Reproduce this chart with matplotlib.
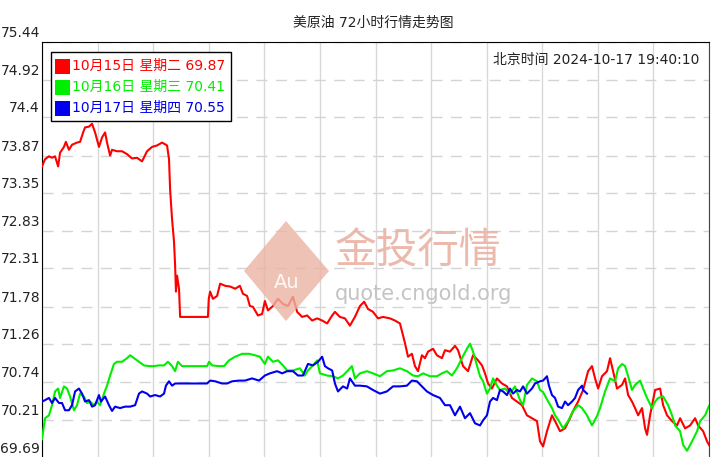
import matplotlib
matplotlib.use('Agg')
import matplotlib.pyplot as plt
import matplotlib.transforms as mtransforms
from matplotlib.patches import Rectangle, Polygon

plt.rcParams['font.family'] = ['DejaVu Sans', 'Noto Sans CJK SC']

# hours since 00:00, price
red_t = [0, 0.11, 0.25, 0.36, 0.47, 0.58, 0.65, 0.79, 0.86, 0.97, 1.08, 1.26, 1.37, 1.48,
         1.55, 1.69, 1.80, 1.91, 2.05, 2.16, 2.27, 2.34, 2.45, 2.52, 2.70, 2.88, 3.06, 3.24,
         3.42, 3.60, 3.78, 3.96, 4.14, 4.32, 4.50, 4.57, 4.61, 4.68, 4.75, 4.79, 4.82, 4.86,
         4.93, 4.97, 5.97, 6.00, 6.05, 6.15, 6.30, 6.41, 6.59, 6.77, 6.95, 7.12, 7.23, 7.38,
         7.48, 7.59, 7.77, 7.92, 8.02, 8.13, 8.31, 8.49, 8.67, 8.85, 9.03, 9.18, 9.36, 9.54,
         9.72, 9.90, 10.08, 10.26, 10.44, 10.54, 10.72, 10.90, 11.08, 11.26, 11.44, 11.59,
         11.73, 11.91, 12.09, 12.27, 12.52, 12.70, 12.88, 13.06, 13.17, 13.31, 13.42, 13.53,
         13.67, 13.78, 13.89, 14.07, 14.21, 14.39, 14.50, 14.68, 14.86, 14.97, 15.15, 15.33,
         15.51, 15.69, 15.83, 15.94, 16.05, 16.19, 16.37, 16.55, 16.73, 16.91, 17.09, 17.27,
         17.45, 17.63, 17.81, 17.92, 18.03, 18.17, 18.35, 18.46, 18.64, 18.82, 19.00, 19.11,
         19.29, 19.47, 19.65, 19.79, 19.90, 20.01, 20.15, 20.33, 20.44, 20.55, 20.69, 20.87,
         20.98, 21.09, 21.23, 21.34, 21.45, 21.59, 21.70, 21.77, 21.88, 22.06, 22.24, 22.35,
         22.49, 22.67, 22.85, 22.96, 23.14, 23.32, 23.50, 23.61, 23.79, 23.93, 24.00]
red_v = [73.72, 73.82, 73.86, 73.84, 73.86, 73.72, 73.91, 73.99, 74.06, 73.95, 74.02, 74.05,
         74.06, 74.19, 74.26, 74.27, 74.31, 74.19, 73.99, 74.12, 74.19, 74.05, 73.87, 73.95,
         73.93, 73.93, 73.89, 73.83, 73.84, 73.79, 73.93, 73.99, 74.01, 74.05, 74.01, 73.82,
         73.40, 72.99, 72.68, 72.35, 71.99, 72.21, 72.03, 71.64, 71.64, 71.89, 71.99, 71.89,
         71.93, 72.10, 72.07, 72.06, 72.03, 72.07, 71.96, 71.93, 71.79, 71.78, 71.66, 71.68,
         71.86, 71.73, 71.79, 71.89, 71.82, 71.79, 71.92, 71.71, 71.64, 71.66, 71.59, 71.62,
         71.59, 71.55, 71.66, 71.71, 71.64, 71.62, 71.52, 71.64, 71.79, 71.85, 71.75, 71.71,
         71.62, 71.64, 71.62, 71.59, 71.55, 71.28, 71.09, 71.13, 70.96, 70.89, 71.11, 71.07,
         71.16, 71.20, 71.11, 71.07, 71.18, 71.16, 71.24, 71.18, 70.96, 70.89, 71.11, 71.04,
         70.97, 70.86, 70.72, 70.65, 70.79, 70.72, 70.68, 70.52, 70.47, 70.42, 70.28, 70.24,
         70.20, 69.92, 69.85, 70.06, 70.28, 70.20, 70.06, 70.10, 70.24, 70.34, 70.47, 70.63,
         70.89, 70.96, 70.79, 70.65, 70.82, 70.89, 71.07, 70.89, 70.65, 70.70, 70.79, 70.56,
         70.47, 70.38, 70.28, 70.38, 70.10, 70.01, 70.28, 70.63, 70.65, 70.42, 70.28, 70.20,
         70.14, 70.24, 70.10, 70.14, 70.24, 70.14, 70.06, 69.92, 69.87]

green_t = [0, 0.11, 0.25, 0.36, 0.47, 0.58, 0.65, 0.79, 0.90, 1.01, 1.15, 1.26, 1.37, 1.51,
           1.62, 1.73, 1.87, 1.98, 2.09, 2.23, 2.34, 2.45, 2.59, 2.70, 2.88, 3.06, 3.17, 3.31,
           3.49, 3.67, 3.85, 4.03, 4.21, 4.39, 4.53, 4.68, 4.79, 4.89, 5.04, 5.94, 6.01, 6.12,
           6.37, 6.55, 6.73, 6.95, 7.20, 7.45, 7.66, 7.84, 8.02, 8.13, 8.31, 8.49, 8.67, 8.82,
           9.03, 9.28, 9.46, 9.57, 9.75, 9.90, 10.00, 10.26, 10.47, 10.65, 10.83, 11.01, 11.15,
           11.26, 11.44, 11.69, 11.91, 12.16, 12.41, 12.63, 12.88, 13.13, 13.35, 13.53, 13.71,
           13.96, 14.21, 14.39, 14.57, 14.75, 14.93, 15.11, 15.29, 15.40, 15.51, 15.65, 15.76,
           15.87, 16.01, 16.12, 16.23, 16.37, 16.48, 16.66, 16.84, 17.02, 17.20, 17.31, 17.45,
           17.63, 17.81, 17.92, 18.03, 18.17, 18.35, 18.46, 18.57, 18.75, 18.93, 19.11, 19.29,
           19.43, 19.61, 19.79, 19.97, 20.08, 20.26, 20.44, 20.62, 20.73, 20.87, 20.98, 21.09,
           21.23, 21.34, 21.52, 21.63, 21.77, 21.95, 22.06, 22.17, 22.35, 22.53, 22.67, 22.78,
           22.96, 23.07, 23.21, 23.39, 23.57, 23.68, 23.86, 24.00]
green_v = [69.95, 70.24, 70.28, 70.42, 70.61, 70.65, 70.52, 70.68, 70.65, 70.54, 70.35, 70.42,
           70.58, 70.54, 70.45, 70.47, 70.42, 70.47, 70.42, 70.58, 70.69, 70.83, 70.99, 71.02,
           71.02, 71.07, 71.11, 71.07, 71.02, 70.97, 70.96, 70.96, 70.97, 70.97, 71.02, 70.96,
           70.89, 71.02, 70.96, 70.96, 71.02, 70.97, 70.96, 70.96, 71.04, 71.09, 71.13, 71.13,
           71.11, 71.09, 70.99, 71.09, 71.02, 71.04, 70.97, 70.90, 70.90, 70.93, 70.83, 70.90,
           70.97, 71.04, 70.86, 70.83, 70.82, 70.79, 70.83, 70.90, 70.96, 70.79, 70.86, 70.89,
           70.86, 70.82, 70.89, 70.90, 70.93, 70.89, 70.83, 70.82, 70.86, 70.82, 70.82, 70.86,
           70.89, 70.83, 70.93, 71.07, 71.20, 71.27, 71.16, 70.97, 70.82, 70.75, 70.58, 70.65,
           70.79, 70.69, 70.63, 70.65, 70.58, 70.68, 70.49, 70.42, 70.70, 70.79, 70.75, 70.63,
           70.60, 70.50, 70.38, 70.28, 70.22, 70.10, 70.20, 70.34, 70.42, 70.38, 70.28, 70.14,
           70.27, 70.38, 70.61, 70.79, 70.75, 70.93, 70.99, 70.96, 70.82, 70.63, 70.70, 70.76,
           70.65, 70.52, 70.38, 70.47, 70.52, 70.54, 70.42, 70.28, 70.14, 70.06, 69.87, 69.79,
           69.92, 70.06, 70.20, 70.28, 70.41]

blue_t = [0, 0.11, 0.25, 0.36, 0.47, 0.61, 0.72, 0.83, 0.97, 1.08, 1.19, 1.33, 1.44, 1.55,
          1.69, 1.80, 1.91, 2.05, 2.12, 2.27, 2.41, 2.52, 2.63, 2.81, 2.99, 3.17, 3.35, 3.49,
          3.60, 3.78, 3.89, 4.07, 4.25, 4.39, 4.46, 4.57, 4.68, 4.79, 5.94, 6.05, 6.23, 6.48,
          6.66, 6.84, 7.09, 7.30, 7.56, 7.81, 8.02, 8.20, 8.46, 8.64, 8.82, 9.03, 9.21, 9.39,
          9.57, 9.75, 9.93, 10.08, 10.18, 10.29, 10.44, 10.54, 10.65, 10.83, 10.98, 11.08,
          11.26, 11.44, 11.69, 11.91, 12.16, 12.41, 12.63, 12.88, 13.13, 13.31, 13.49, 13.67,
          13.85, 14.07, 14.32, 14.50, 14.68, 14.86, 15.04, 15.22, 15.40, 15.58, 15.76, 15.87,
          16.01, 16.12, 16.23, 16.37, 16.48, 16.59, 16.73, 16.84, 16.95, 17.09, 17.20, 17.31,
          17.45, 17.63, 17.74, 17.92, 18.03, 18.17, 18.24, 18.35, 18.46, 18.57, 18.71, 18.82,
          18.93, 19.07, 19.18, 19.29, 19.43, 19.47, 19.61]
blue_v = [70.47, 70.49, 70.52, 70.45, 70.52, 70.45, 70.45, 70.35, 70.35, 70.42, 70.61, 70.65,
          70.58, 70.47, 70.49, 70.40, 70.42, 70.56, 70.47, 70.54, 70.42, 70.34, 70.40, 70.38,
          70.40, 70.40, 70.42, 70.58, 70.61, 70.58, 70.54, 70.56, 70.54, 70.58, 70.69, 70.75,
          70.69, 70.72, 70.72, 70.76, 70.75, 70.72, 70.72, 70.75, 70.76, 70.76, 70.79, 70.76,
          70.83, 70.86, 70.89, 70.86, 70.89, 70.89, 70.83, 70.83, 70.99, 70.97, 71.02, 71.09,
          70.96, 70.93, 70.90, 70.72, 70.61, 70.68, 70.65, 70.79, 70.69, 70.69, 70.68, 70.63,
          70.58, 70.61, 70.68, 70.68, 70.69, 70.76, 70.75, 70.68, 70.61, 70.56, 70.52, 70.42,
          70.42, 70.28, 70.40, 70.24, 70.31, 70.17, 70.14, 70.21, 70.28, 70.47, 70.52, 70.49,
          70.63, 70.61, 70.56, 70.65, 70.58, 70.63, 70.61, 70.68, 70.58, 70.65, 70.72, 70.75,
          70.76, 70.82, 70.69, 70.56, 70.52, 70.40, 70.38, 70.47, 70.42, 70.47, 70.52, 70.63,
          70.69, 70.63, 70.58]

y_ticks = [69.69, 70.21, 70.74, 71.26, 71.78, 72.31, 72.83, 73.35, 73.87, 74.40, 74.92, 75.44]
y_labels = ['69.69', '70.21', '70.74', '71.26', '71.78', '72.31', '72.83', '73.35',
            '73.87', '74.4', '74.92', '75.44']

legend_labels = ['10月15日 星期二 69.87', '10月16日 星期三 70.41', '10月17日 星期四 70.55']
colors = ['#ff0000', '#00ee00', '#0000ee']
title = '美原油 72小时行情走势图'
stamp = '北京时间 2024-10-17 19:40:10'

W, H = 720, 457


def fx(px):
    return px / W


def fy(py):
    return 1 - py / H


fig = plt.figure(figsize=(7.2, 4.57), dpi=100)
ax = fig.add_axes([fx(42), fy(458), fx(709) - fx(42), fy(42) - fy(458)])

# watermark
fig.patches.append(Polygon([(fx(286), fy(221)), (fx(329), fy(271)), (fx(286), fy(321)),
                            (fx(244), fy(271))], closed=True, transform=fig.transFigure,
                           facecolor='#eab3a3', edgecolor='none', alpha=0.8, zorder=0))
fig.text(fx(287), fy(283), 'Au', color='white', fontsize=14, ha='center', va='center',
         zorder=0.5, alpha=0.9)
fig.text(fx(335), fy(252), '金投行情', color='#eab3a3', fontsize=30, ha='left', va='center',
         family=['Noto Sans CJK SC'], zorder=0.5, alpha=0.9)
fig.text(fx(335), fy(294), 'quote.cngold.org', color='#c4c4c4', fontsize=15, ha='left',
         va='center', zorder=0.5)
ax.patch.set_alpha(0)

for t, v, c in zip([red_t, green_t, blue_t], [red_v, green_v, blue_v], colors):
    ax.plot(t, v, color=c, lw=1.5, zorder=3)

ax.set_xlim(0, 24)
ax.set_ylim(69.69, 75.44)
ax.set_xticks(range(0, 25, 2))
ax.set_xticklabels([])
ax.set_yticks(y_ticks)
ax.set_yticklabels([])
ax.tick_params(length=0)

# y labels sit just above their grid line
lab_tr = mtransforms.blended_transform_factory(ax.transAxes, ax.transData)
lab_tr = lab_tr + mtransforms.ScaledTranslation(-2 / 100, 5 / 100, fig.dpi_scale_trans)
for v, s in zip(y_ticks, y_labels):
    ax.text(0, v, s, transform=lab_tr, ha='right', va='baseline', fontsize=10,
            color='#222222', clip_on=False)

ax.xaxis.grid(True, color='#d8d8d8', lw=1, ls='-')
ax.yaxis.grid(True, color='#d4d4d4', lw=1, ls=(0, (8, 6)))
ax.set_axisbelow(True)
for s in ['left', 'top']:
    ax.spines[s].set_color('#000000')
ax.spines['right'].set_color('#444444')
ax.spines['bottom'].set_visible(False)

fig.text(fx(373), fy(23), title, fontsize=10, ha='center', va='center', color='#222222')
fig.text(fx(699), fy(60), stamp, fontsize=10, ha='right', va='center', color='#222222')

# legend box
fig.patches.append(Rectangle((fx(51), fy(121)), fx(231) - fx(51), fy(52) - fy(121),
                             transform=fig.transFigure, facecolor='white', edgecolor='black',
                             lw=1, zorder=5))
for i, (lab, c) in enumerate(zip(legend_labels, colors)):
    yc = 66 + i * 21
    fig.patches.append(Rectangle((fx(55), fy(yc + 7.5)), fx(15), 15 / H,
                                 transform=fig.transFigure, facecolor=c, edgecolor='none',
                                 zorder=6))
    fig.text(fx(72), fy(yc), lab, fontsize=10, ha='left', va='center', color=c, zorder=7)

fig.savefig('out.png', dpi=100)
